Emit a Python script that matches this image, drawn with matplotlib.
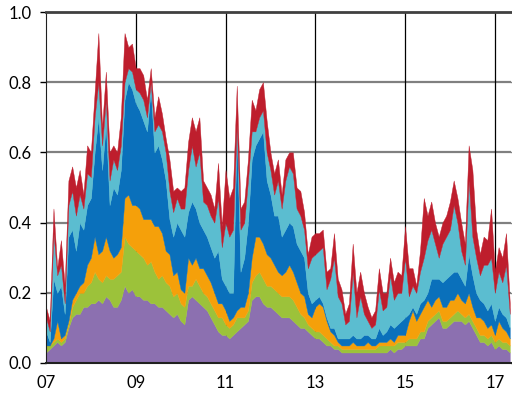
import numpy as np
import matplotlib
matplotlib.use("Agg")
import matplotlib.pyplot as plt

# monthly values, Jan 2007 - May 2017 (stacked, bottom to top)
purple = [.03, .04, .05, .06, .05, .06, .10, .13, .14, .14,
          .16, .16, .17, .17, .18, .17, .19, .18, .16, .16,
          .18, .22, .20, .21, .19, .19, .18, .18, .17, .17,
          .16, .16, .15, .14, .13, .14, .12, .11, .18, .19,
          .18, .17, .16, .15, .13, .11, .09, .08, .08, .07,
          .08, .09, .10, .11, .12, .18, .19, .19, .17, .16,
          .16, .15, .14, .13, .13, .13, .12, .11, .10, .10,
          .09, .08, .07, .07, .06, .05, .05, .04, .04, .03,
          .03, .03, .03, .03, .03, .03, .03, .03, .03, .03,
          .03, .03, .04, .03, .04, .04, .05, .05, .05, .05,
          .07, .07, .10, .11, .12, .13, .10, .10, .11, .12,
          .12, .12, .11, .12, .10, .08, .06, .06, .05, .06,
          .04, .05, .04, .04, .03]
green = [.02, .01, .01, .01, .01, .01, .01, .03, .04, .06,
         .04, .06, .06, .09, .06, .06, .06, .06, .08, .09,
         .08, .14, .14, .12, .13, .12, .12, .10, .12, .09,
         .08, .09, .08, .08, .06, .06, .05, .05, .04, .03,
         .06, .05, .04, .04, .04, .04, .04, .05, .03, .03,
         .03, .04, .03, .02, .03, .05, .06, .07, .07, .06,
         .06, .06, .06, .06, .06, .06, .06, .05, .04, .03,
         .02, .02, .02, .02, .02, .02, .01, .01, .01, .01,
         .01, .01, .01, .01, .01, .01, .01, .01, .01, .02,
         .02, .02, .01, .02, .02, .02, .01, .02, .02, .02,
         .02, .02, .02, .02, .02, .02, .02, .02, .02, .02,
         .03, .02, .02, .02, .02, .02, .02, .02, .02, .02,
         .02, .02, .02, .02, .02]
orange = [.00, .00, .01, .05, .01, .01, .01, .02, .02, .02,
          .03, .06, .07, .10, .07, .09, .11, .08, .06, .06,
          .07, .11, .14, .12, .13, .13, .11, .13, .12, .13,
          .15, .12, .09, .09, .06, .06, .04, .04, .08, .06,
          .06, .05, .07, .06, .06, .05, .04, .04, .04, .02,
          .02, .02, .03, .03, .05, .07, .11, .10, .10, .09,
          .08, .07, .06, .06, .07, .09, .08, .07, .06, .06,
          .03, .03, .07, .08, .08, .05, .03, .03, .01, .01,
          .01, .01, .02, .01, .01, .01, .02, .01, .01, .01,
          .01, .01, .02, .01, .02, .02, .02, .05, .08, .05,
          .05, .07, .06, .03, .04, .04, .04, .04, .05, .04,
          .05, .04, .04, .06, .04, .03, .05, .04, .03, .03,
          .02, .05, .04, .03, .02]
blue = [.04, .01, .17, .08, .15, .06, .24, .20, .12, .18,
        .15, .17, .17, .24, .39, .23, .32, .13, .20, .17,
        .22, .28, .32, .33, .29, .28, .28, .25, .37, .21,
        .23, .21, .20, .10, .11, .14, .17, .16, .13, .18,
        .14, .13, .11, .11, .10, .10, .15, .07, .07, .08,
        .07, .51, .10, .14, .20, .28, .26, .28, .32, .21,
        .18, .14, .16, .11, .12, .12, .13, .11, .12, .11,
        .06, .04, .02, .02, .01, .01, .01, .02, .01, .02,
        .02, .02, .02, .02, .02, .03, .02, .02, .02, .04,
        .02, .03, .04, .04, .03, .04, .05, .02, .01, .02,
        .03, .02, .02, .08, .06, .05, .07, .08, .07, .08,
        .06, .06, .05, .11, .09, .07, .05, .05, .05, .06,
        .04, .04, .04, .04, .03]
cyan = [.04, .03, .13, .05, .06, .03, .09, .11, .10, .08,
        .06, .09, .06, .10, .10, .07, .07, .07, .08, .07,
        .07, .05, .04, .05, .04, .05, .06, .04, .02, .06,
        .06, .08, .08, .08, .07, .07, .06, .08, .12, .16,
        .12, .20, .08, .09, .09, .10, .15, .09, .18, .16,
        .18, .02, .12, .10, .12, .08, .04, .06, .06, .08,
        .07, .06, .10, .08, .14, .16, .15, .10, .10, .08,
        .07, .13, .13, .13, .16, .08, .14, .20, .12, .10,
        .04, .05, .18, .06, .12, .06, .04, .03, .04, .11,
        .07, .07, .14, .08, .09, .08, .17, .05, .06, .06,
        .09, .12, .15, .14, .10, .06, .11, .12, .13, .19,
        .14, .08, .06, .21, .11, .10, .07, .11, .13, .13,
        .08, .10, .09, .15, .04]
red = [.03, .03, .07, .02, .07, .05, .07, .07, .08, .07,
       .04, .08, .07, .07, .14, .05, .08, .08, .04, .05,
       .08, .14, .06, .08, .06, .07, .07, .05, .04, .04,
       .08, .05, .04, .09, .06, .03, .05, .06, .08, .08,
       .10, .10, .06, .05, .06, .04, .10, .06, .15, .11,
       .12, .11, .06, .06, .06, .09, .06, .08, .08, .09,
       .05, .06, .06, .04, .06, .04, .06, .06, .07, .05,
       .04, .06, .06, .05, .05, .05, .03, .07, .05, .04,
       .03, .05, .08, .07, .07, .06, .04, .03, .04, .06,
       .05, .04, .05, .05, .06, .05, .09, .08, .05, .02,
       .06, .17, .07, .08, .06, .06, .06, .06, .08, .07,
       .07, .08, .06, .10, .19, .08, .06, .08, .07, .14,
       .06, .07, .07, .09, .03]

colors = ["#8c70b0", "#9cc23a", "#f5a00a", "#0a70bb", "#5bbdd0", "#be1e2d"]
tick_years = [2007, 2009, 2011, 2013, 2015, 2017]
tick_labels = ["07", "09", "11", "13", "15", "17"]

x = 2007 + np.arange(len(purple)) / 12.0

fig = plt.figure(figsize=(5.12, 3.94), dpi=100)
ax = fig.add_axes([0.0898, 0.0787, 0.9082, 0.8908])

ax.stackplot(x, purple, green, orange, blue, cyan, red,
             colors=colors, linewidth=0.3, edgecolor="face", zorder=2)

ax.set_xlim(2007, 2017.36)
ax.set_ylim(0, 1.0)
ax.set_xticks(tick_years)
ax.set_xticklabels(tick_labels)
ax.set_yticks(np.arange(0, 1.01, 0.2))
ax.set_yticklabels(["0.0", "0.2", "0.4", "0.6", "0.8", "1.0"])

# grid behind the areas
for yv in [0.2, 0.4, 0.6, 0.8]:
    ax.axhline(yv, color="#808080", lw=1.6, zorder=1)
for xv in tick_years[1:]:
    ax.axvline(xv, color="black", lw=0.9, zorder=1)

for side in ["right"]:
    ax.spines[side].set_visible(False)
ax.spines["top"].set_color("#404040")
ax.spines["top"].set_linewidth(2)
ax.spines["left"].set_color("#202020")
ax.spines["bottom"].set_color("#202020")
ax.spines["bottom"].set_linewidth(1.5)

ax.tick_params(axis="x", length=0, pad=9, labelsize=12)
ax.tick_params(axis="y", length=4, width=1, pad=6, labelsize=12, right=True, direction="out")
for lab in ax.get_xticklabels() + ax.get_yticklabels():
    lab.set_fontfamily("Lato")

fig.savefig("out.png", dpi=100)
